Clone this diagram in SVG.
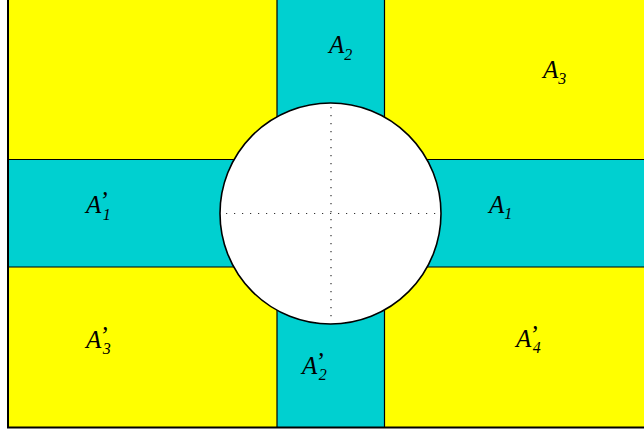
<svg xmlns="http://www.w3.org/2000/svg" width="644" height="434" viewBox="0 0 644 434">
<style>
.lbl{font-family:"Liberation Serif","Times New Roman",serif;font-style:italic;font-size:25px;fill:#000}
.sub{font-size:16px}
.edge{stroke:#000;stroke-width:1.2;fill:none}
.dot{stroke:#333;stroke-width:1.2;stroke-dasharray:1.2 6.8;fill:none}
</style>
<rect x="0" y="0" width="644" height="434" fill="#fff"/>
<rect id="yellow" x="8" y="0" width="636" height="427" fill="#ffff00"/>
<g id="bands">
<rect x="277" y="0" width="107" height="427" fill="#00d0d0"/>
<rect x="8" y="159" width="636" height="108" fill="#00d0d0"/>
</g>
<g id="edges">
<line class="edge" x1="277" y1="0" x2="277" y2="427"/>
<line class="edge" x1="384.5" y1="0" x2="384.5" y2="427"/>
<line class="edge" x1="8" y1="159.5" x2="644" y2="159.5"/>
<line class="edge" x1="8" y1="267" x2="644" y2="267"/>
<line x1="8" y1="0" x2="8" y2="428" stroke="#000" stroke-width="2"/>
<line x1="7" y1="427.5" x2="644" y2="427.5" stroke="#000" stroke-width="2"/>
</g>
<g id="circle">
<circle cx="330.5" cy="213.5" r="110.5" fill="#fff" stroke="#000" stroke-width="1.6"/>
<line class="dot" x1="226" y1="213.5" x2="440" y2="213.5"/>
<line class="dot" x1="331" y1="107" x2="331" y2="322"/>
</g>
<g id="labels">
<text class="lbl" x="329" y="53">A<tspan class="sub" dy="7">2</tspan></text>
<text class="lbl" x="543" y="78">A<tspan class="sub" dy="6">3</tspan></text>
<text class="lbl" x="86" y="213">A<tspan dx="-1" dy="-4">’</tspan><tspan class="sub" dx="-5" dy="11">1</tspan></text>
<text class="lbl" x="489" y="213">A<tspan class="sub" dy="6">1</tspan></text>
<text class="lbl" x="86" y="348">A<tspan dx="-1" dy="-4">’</tspan><tspan class="sub" dx="-5" dy="10">3</tspan></text>
<text class="lbl" x="302" y="374">A<tspan dx="-1" dy="-4">’</tspan><tspan class="sub" dx="-5" dy="10">2</tspan></text>
<text class="lbl" x="516" y="347">A<tspan dx="-1" dy="-4">’</tspan><tspan class="sub" dx="-5" dy="10">4</tspan></text>
</g>
</svg>
